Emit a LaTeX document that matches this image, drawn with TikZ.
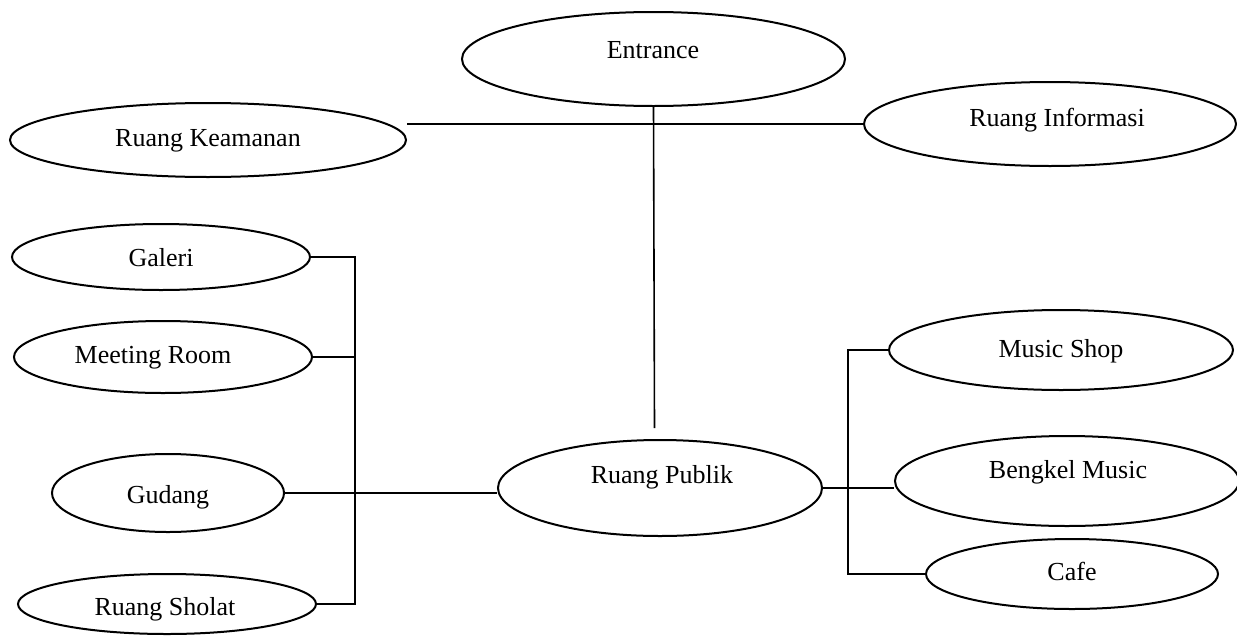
\documentclass[tikz,border=0pt]{standalone}
\usepackage{fontspec}
\setmainfont{Liberation Serif}
\usetikzlibrary{shapes.geometric}
\tikzset{
  room/.style={draw=black, line width=2pt, ellipse, inner sep=0pt},
  lbl/.style={anchor=base, inner sep=0pt, font=\fontsize{26}{30}\selectfont},
  conn/.style={draw=black, line width=1.6pt}
}
\begin{document}
\begin{tikzpicture}[x=1pt,y=-1pt]
\useasboundingbox (0,0) rectangle (1237,635);
% ellipses
\node[room, minimum width=383pt, minimum height=94pt] (entr) at (653.5,59) {};
\node[room, minimum width=396pt, minimum height=74pt] (keam) at (208,140) {};
\node[room, minimum width=372pt, minimum height=84pt] (info) at (1050,124) {};
\node[room, minimum width=298pt, minimum height=66pt] (gal) at (161,257) {};
\node[room, minimum width=298pt, minimum height=72pt] (meet) at (163,357) {};
\node[room, minimum width=232pt, minimum height=78pt] (gud) at (168,493) {};
\node[room, minimum width=298pt, minimum height=60pt] (sho) at (167,604) {};
\node[room, minimum width=324pt, minimum height=96pt] (pub) at (660,488) {};
\node[room, minimum width=344pt, minimum height=80pt] (ms) at (1061,350) {};
\node[room, minimum width=344pt, minimum height=90pt] (ben) at (1067,481) {};
\node[room, minimum width=292pt, minimum height=70pt] (cafe) at (1072,574) {};
% labels
\node[lbl] (tentr) at (653,58) {Entrance};
\node[lbl] (tkeam) at (208,146) {Ruang Keamanan};
\node[lbl] (tinfo) at (1057,126) {Ruang Informasi};
\node[lbl] (tgal) at (161,266) {Galeri};
\node[lbl] (tmeet) at (153,363) {Meeting Room};
\node[lbl] (tgud) at (168,503) {Gudang};
\node[lbl] (tsho) at (165,615) {Ruang Sholat};
\node[lbl] (tpub) at (662,483) {Ruang Publik};
\node[lbl] (tms) at (1061,357) {Music Shop};
\node[lbl] (tben) at (1068,478) {Bengkel Music};
\node[lbl] (tcafe) at (1072,580) {Cafe};
% connectors
\coordinate (pubgap) at (654.5,428);
\coordinate (lb) at (355,0);
\coordinate (rb) at (848,0);
\draw[conn] (entr.south) -- (pubgap);
\draw[conn] (keam.east |- info.west) -- (info.west);
\draw[conn] (gal.east) -- (gal.east -| lb) -- (sho.east -| lb) -- (sho.east);
\draw[conn] (meet.east) -- (meet.east -| lb);
\draw[conn] (gud.east) -- (gud.east -| pub.west);
\draw[conn] (pub.east) -- (pub.east -| ben.west);
\draw[conn] (ms.west) -- (ms.west -| rb) -- (cafe.west -| rb) -- (cafe.west);
\end{tikzpicture}
\end{document}
